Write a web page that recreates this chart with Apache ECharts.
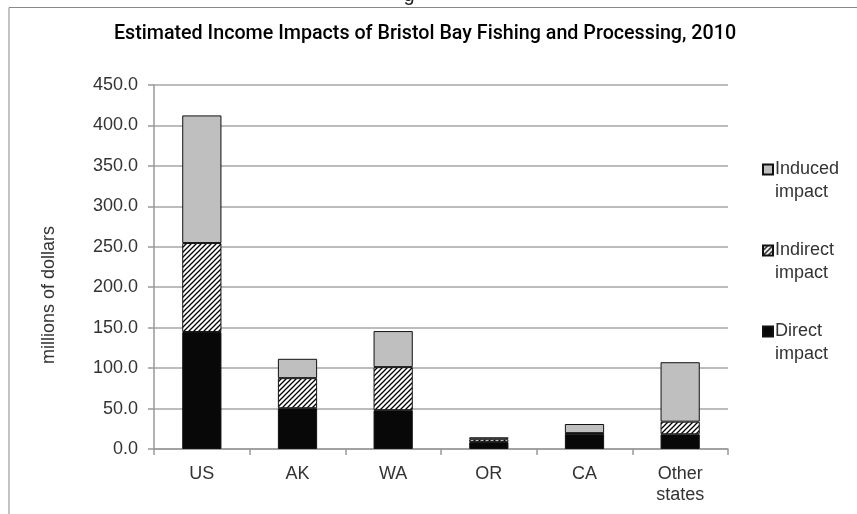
<!DOCTYPE html>
<html>
<head>
<meta charset="utf-8">
<script src="https://cdn.jsdelivr.net/npm/echarts@6/dist/echarts.min.js"></script>
<style>
html,body{margin:0;padding:0;background:#fff;}
#chart{width:857px;height:514px;}
</style>
</head>
<body>
<div id="chart"></div>
<script>
const categories = ['US', 'AK', 'WA', 'OR', 'CA', 'Other\nstates'];
const directImpact = [144.6, 50.4, 48.0, 8.5, 19.0, 18.2];
const indirectImpact = [110.0, 37.2, 53.2, 3.5, 0.6, 15.6];
const inducedImpact = [157.8, 23.9, 44.6, 2.5, 11.3, 73.5];
const seriesNames = ['Direct impact', 'Indirect impact', 'Induced impact'];
const yTicks = { min: 0, max: 450, interval: 50 };

function hatch() {
  const c = document.createElement('canvas');
  c.width = 5; c.height = 5;
  const g = c.getContext('2d');
  g.fillStyle = '#fff'; g.fillRect(0, 0, 5, 5);
  g.strokeStyle = '#000'; g.lineWidth = 1.3;
  g.beginPath();
  g.moveTo(-1, 6); g.lineTo(6, -1);
  g.moveTo(-1, 1); g.lineTo(1, -1);
  g.moveTo(4, 6); g.lineTo(6, 4);
  g.stroke();
  return { image: c, repeat: 'repeat' };
}

const font = 'Liberation Sans';
const chart = echarts.init(document.getElementById('chart'));
const border = { borderColor: '#111', borderWidth: 1 };
chart.setOption({
  animation: false,
  backgroundColor: '#fff',
  title: {
    text: 'Estimated Income Impacts of Bristol Bay Fishing and Processing, 2010',
    left: 420, top: 19, textAlign: 'center',
    textStyle: { fontFamily: 'Roboto', fontSize: 19.7, fontWeight: 500, color: '#000' }
  },
  graphic: [
    { type: 'polyline', shape: { points: [[9, 514], [9, 7.5], [857, 7.5]] }, style: { stroke: '#888', lineWidth: 1, fill: null }, silent: true },
    { type: 'text', style: { text: 'g', x: 409, y: 5, textAlign: 'center', textVerticalAlign: 'bottom', fontFamily: font, fontSize: 20, fill: '#222' }, silent: true }
  ],
  legend: {
    orient: 'vertical', left: 757, top: 130, itemGap: 12,
    itemWidth: 10, itemHeight: 10, icon: 'rect',
    data: ['Induced impact', 'Indirect impact', 'Direct impact'],
    formatter: function (n) { return '\n' + n.replace(' ', '\n'); },
    textStyle: { fontFamily: font, fontSize: 18, color: '#333', lineHeight: 23, padding: [0, 0, 0, -3] }
  },
  grid: { left: 154, right: 129, top: 85, bottom: 65, containLabel: false },
  xAxis: {
    type: 'category', data: categories,
    axisLine: { lineStyle: { color: '#999', width: 1.5 } },
    axisTick: { show: true, length: 6, lineStyle: { color: '#999', width: 1.5 } },
    axisLabel: { fontFamily: font, fontSize: 18, color: '#333', margin: 15, lineHeight: 21 }
  },
  yAxis: {
    type: 'value', min: yTicks.min, max: yTicks.max, interval: yTicks.interval,
    name: 'millions of dollars', nameLocation: 'middle', nameGap: 96, nameRotate: 90,
    nameTextStyle: { fontFamily: font, fontSize: 18, color: '#333', padding: [0, 56, 0, 0] },
    axisLine: { show: true, lineStyle: { color: '#999', width: 1.5 } },
    axisTick: { show: true, length: 6, lineStyle: { color: '#999', width: 1.5 } },
    axisLabel: { fontFamily: font, fontSize: 18, color: '#333', margin: 16, formatter: v => v.toFixed(1) },
    splitLine: { lineStyle: { color: '#a6a6a6', width: 1.5 } }
  },
  series: [
    { name: seriesNames[0], type: 'bar', stack: 't', data: directImpact, barCategoryGap: '59%', itemStyle: Object.assign({ color: '#080808' }, border) },
    { name: seriesNames[1], type: 'bar', stack: 't', data: indirectImpact, itemStyle: Object.assign({ color: hatch() }, border) },
    { name: seriesNames[2], type: 'bar', stack: 't', data: inducedImpact, itemStyle: Object.assign({ color: '#bfbfbf' }, border) }
  ]
});
</script>
</body>
</html>
